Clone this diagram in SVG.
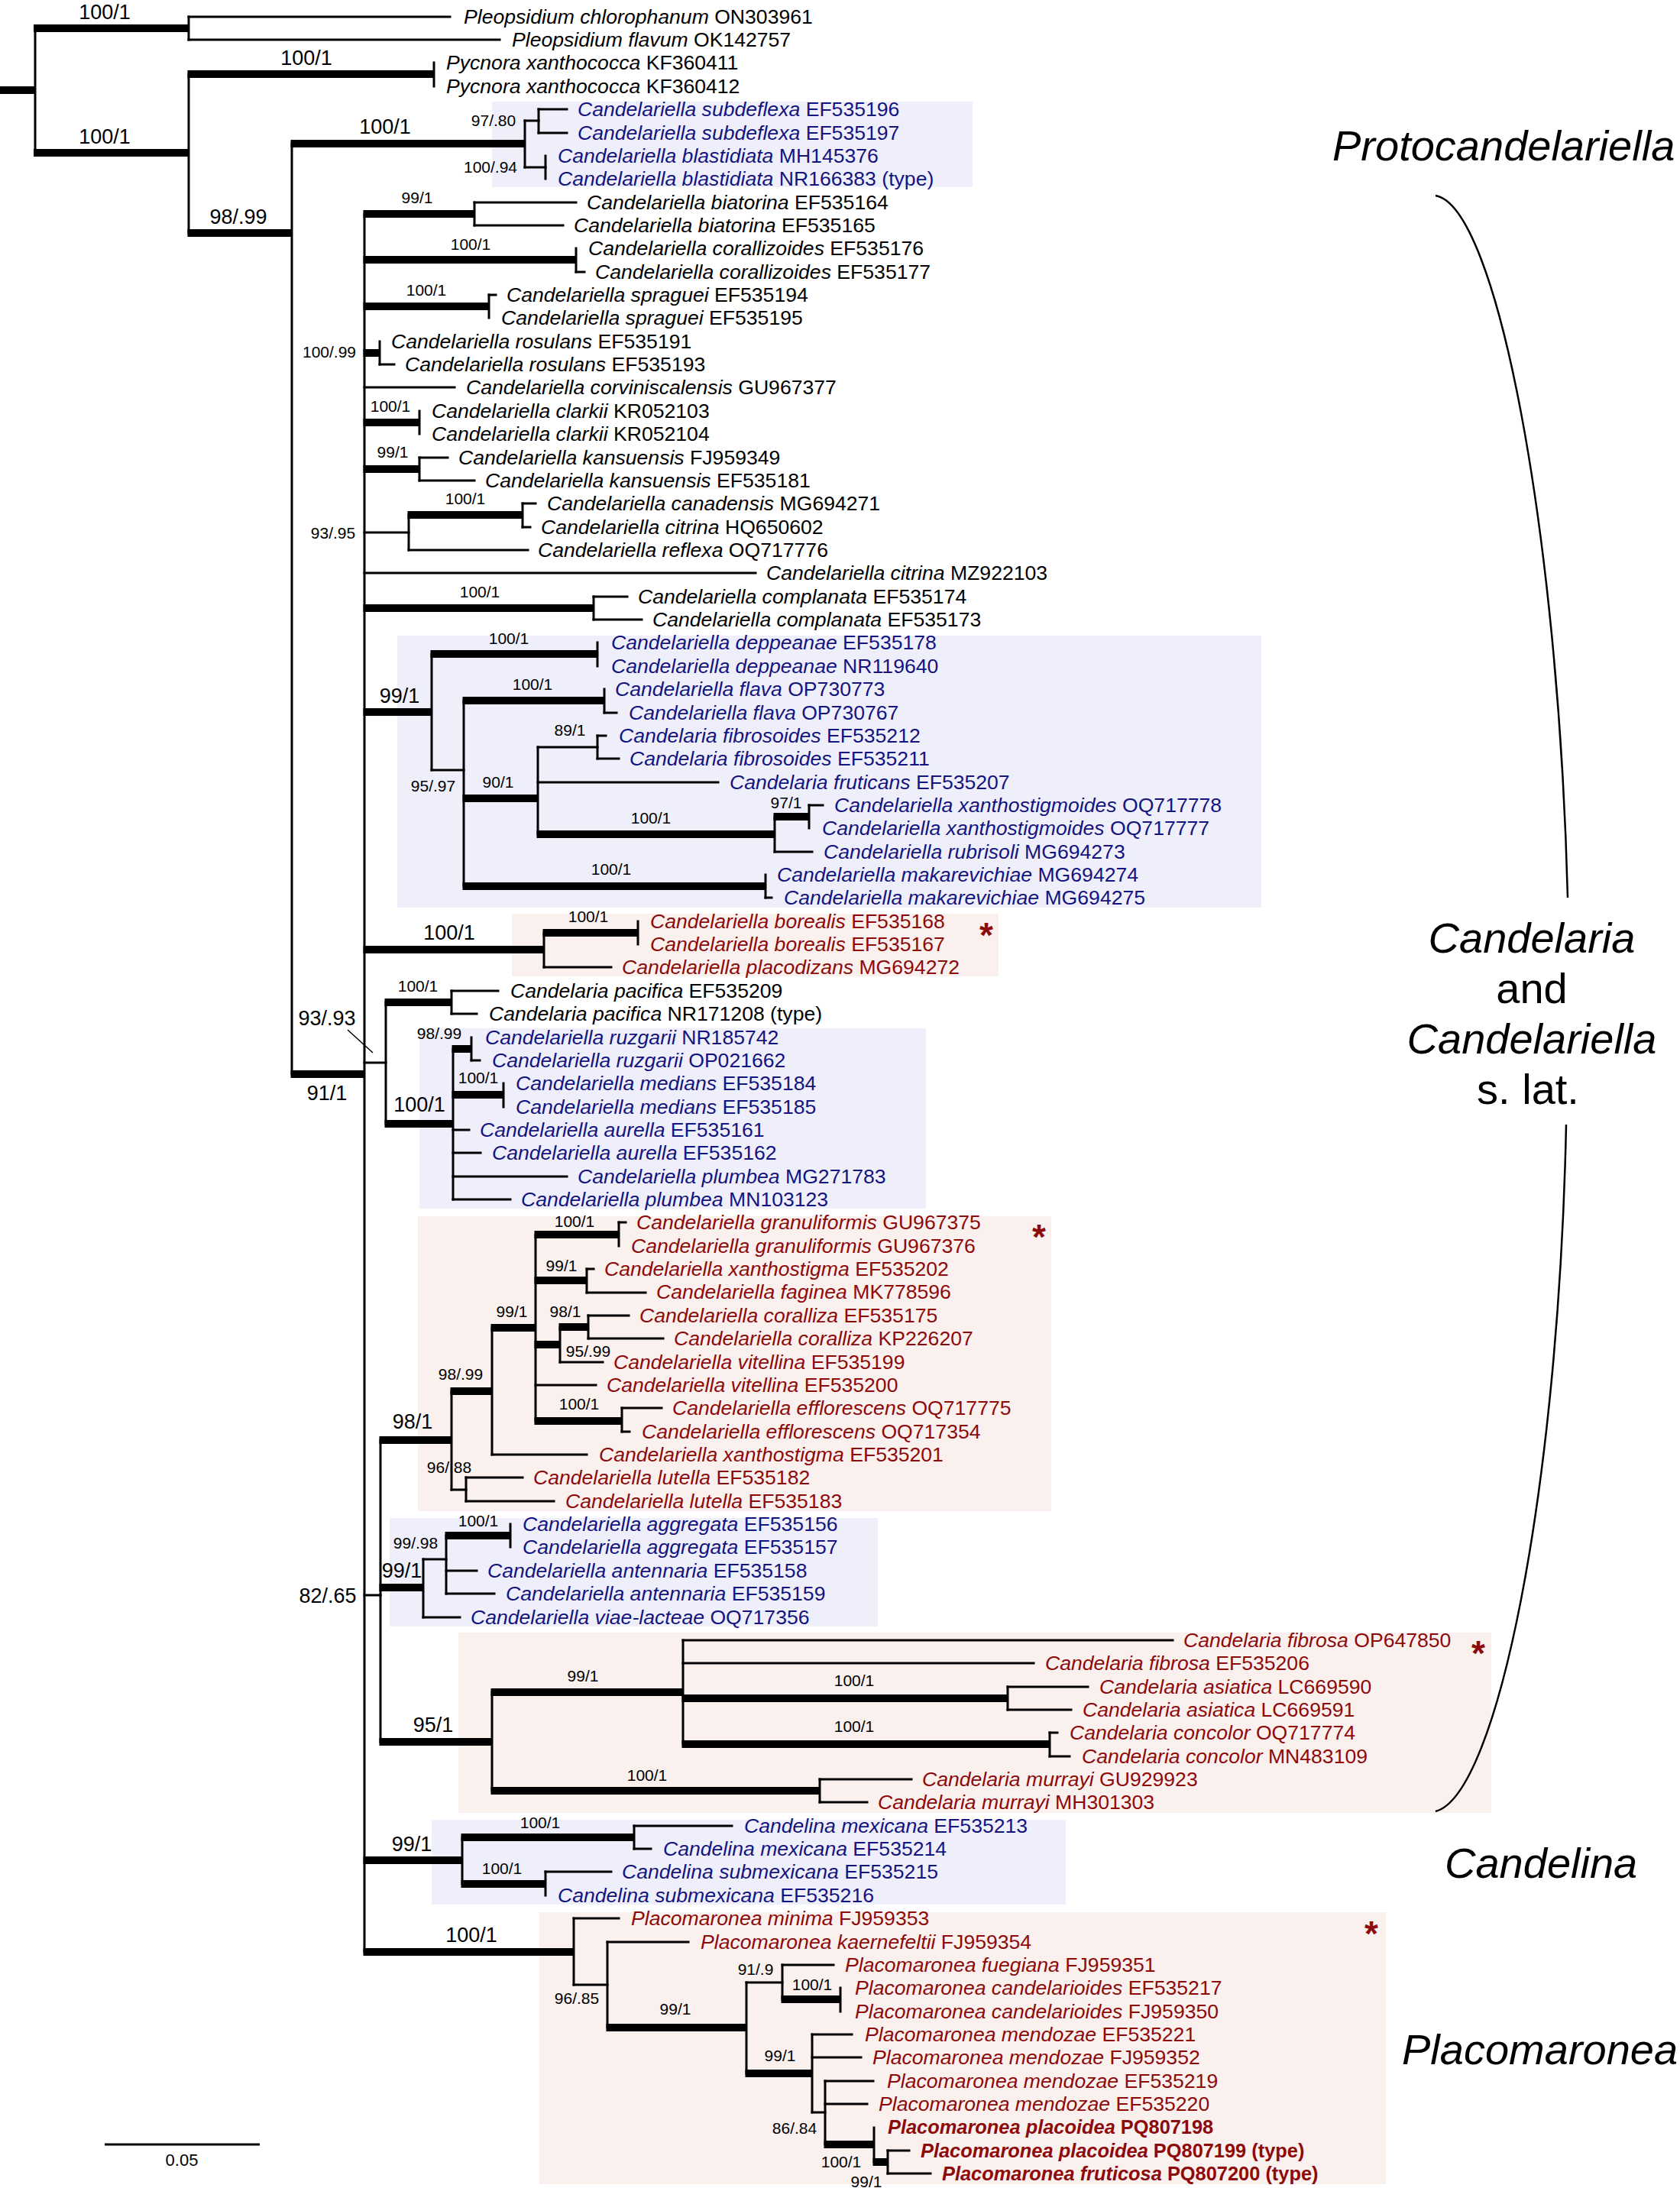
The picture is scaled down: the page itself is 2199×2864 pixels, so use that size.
<svg xmlns="http://www.w3.org/2000/svg" width="2199" height="2864" viewBox="0 0 2199 2864">
<style>
text{font-family:"Liberation Sans",Arial,sans-serif;}
.tip{font-size:26.6px;}
.i{font-style:italic;}
.bd{font-weight:bold;font-size:25.4px;}
.k{fill:#000;}
.bl{fill:#14147f;}
.rd{fill:#8c0a0a;}
.s{font-size:21px;text-anchor:middle;fill:#000;}
.L{font-size:27px;text-anchor:middle;fill:#000;}
.clade{font-size:56px;fill:#000;}
.ast{font-size:46px;font-weight:bold;fill:#8c0a0a;text-anchor:middle;}
.thin{fill:none;stroke:#000;stroke-width:3;stroke-linecap:square;}
.thick{fill:none;stroke:#000;stroke-width:10;stroke-linecap:butt;}
.bbox{fill:#efeffc;}
.rbox{fill:#faf0ee;}
</style>
<rect width="2199" height="2864" fill="#fff"/>
<g id="highlight-boxes">
<rect class="bbox" x="644" y="133" width="629" height="112"/>
<rect class="bbox" x="520" y="832" width="1131" height="356"/>
<rect class="rbox" x="670" y="1196" width="637" height="82"/>
<rect class="bbox" x="549" y="1346" width="663" height="236"/>
<rect class="rbox" x="547" y="1592" width="829" height="386"/>
<rect class="bbox" x="510" y="1987" width="639" height="142"/>
<rect class="rbox" x="600" y="2137" width="1352" height="236"/>
<rect class="bbox" x="565" y="2382" width="830" height="111"/>
<rect class="rbox" x="706" y="2503" width="1108" height="356"/>
</g>
<g id="connectors">
<path class="thin" d="M46 37V200M247 22V52M247 97V305M568 82V113M382 188V1406M687 158V219M705 143V174M714 204V234M477 280V2555M621 265V295M754 325V356M640 386V416M497 447V477M549 538V568M549 599V629M535 674V720M684 659V690M777 781V811M565 856V1008M782 841V872M607 917V1160M791 902V933M704 978V1092M782 963V993M1014 1069V1115M1059 1054V1084M1002 1145V1175M712 1221V1266M835 1206V1236M505 1312V1471M591 1297V1327M593 1373V1570M617 1358V1388M659 1418V1449M498 1885V2280M591 1821V1950M644 1738V1904M701 1616V1860M810 1600V1631M768 1661V1692M733 1737V1783M770 1722V1752M814 1843V1874M610 1934V1965M554 2041V2117M584 2010V2086M668 1995V2025M644 2215V2344M894 2147V2283M1319 2208V2238M1374 2268V2299M1073 2329V2359M605 2405V2466M830 2390V2420M714 2450V2481M751 2511V2598M795 2542V2654M977 2595V2714M1024 2572V2617M1100 2602V2633M1063 2663V2765M1080 2724V2807M1144 2785V2830M1162 2815V2845"/>
<path class="thin" d="M247 22H589M247 52H654M687 158H705M687 219H714M705 143H742M705 174H742M621 265H754M621 295H737M754 356H765M640 386H649M497 477H516M477 507H595M549 599H586M549 629H621M477 697H535M684 659H701M684 690H694M535 720H691M477 750H989M777 781H821M777 811H840M791 933H807M565 1008H607M704 978H782M782 963H793M782 993H810M704 1024H940M1059 1054H1077M1014 1115H1063M1002 1175H1010M712 1266H800M477 1391H505M591 1297H652M591 1327H624M617 1388H628M593 1479H614M593 1509H629M593 1540H742M593 1570H668M477 2088H498M810 1600H819M768 1661H777M768 1692H845M770 1722H823M770 1752H868M733 1783H789M701 1813H780M814 1843H866M814 1874H824M644 1904H768M591 1950H610M610 1934H684M610 1965H725M554 2041H584M584 2056H624M584 2086H647M554 2117H602M894 2147H1535M894 2177H1353M1319 2208H1424M1319 2238H1402M1374 2268H1384M1374 2299H1400M1073 2329H1193M1073 2359H1135M830 2390H958M830 2420H852M714 2450H800M751 2511H810M751 2598H795M795 2542H901M977 2595H1024M1024 2572H1091M1063 2663H1115M1063 2693H1127M1063 2765H1080M1080 2724H1143M1080 2754H1135M1162 2815H1190M1162 2845H1218"/>
<path class="thick" d="M0 118H47M44 37H247M44 200H247M245.5 97H568M245.5 305H382M380.5 188H687M380.5 1406H477M475.5 280H621M475.5 340H754M475.5 401H640M475.5 462H497M475.5 553H549M475.5 614H549M533.5 674H684M475.5 796H777M475.5 932H565M563.5 856H782M605.5 917H791M605.5 1045H704M702.5 1092H1014M1012.5 1069H1059M605.5 1160H1002M475.5 1243H712M710.5 1221H835M503.5 1312H591M503.5 1471H593M591.5 1373H617M591.5 1433H659M496.5 1885H591M589.5 1821H644M642.5 1738H701M699.5 1616H810M699.5 1676H768M699.5 1760H733M731.5 1737H770M699.5 1860H814M496.5 2078H554M582.5 2010H668M496.5 2280H644M642.5 2215H894M892.5 2223H1319M892.5 2283H1374M642.5 2344H1073M475.5 2435H605M603.5 2405H830M603.5 2466H714M475.5 2555H751M793.5 2654H977M1022.5 2617H1100M975.5 2714H1063M1078.5 2807H1144M1142.5 2830H1162"/>
<path d="M455 1348L488 1378" stroke="#000" stroke-width="1.5" fill="none"/>
</g>
<g id="support-values">
<text class="L" x="137" y="25">100/1</text>
<text class="L" x="137" y="188">100/1</text>
<text class="L" x="401" y="85">100/1</text>
<text class="L" x="504" y="175">100/1</text>
<text class="L" x="312" y="293">98/.99</text>
<text class="L" x="523" y="920">99/1</text>
<text class="L" x="588" y="1230">100/1</text>
<text class="L" x="428" y="1342">93/.93</text>
<text class="L" x="428" y="1440">91/1</text>
<text class="L" x="549" y="1455">100/1</text>
<text class="L" x="540" y="1870">98/1</text>
<text class="L" x="429" y="2098">82/.65</text>
<text class="L" x="526" y="2065">99/1</text>
<text class="L" x="567" y="2267">95/1</text>
<text class="L" x="539" y="2423">99/1</text>
<text class="L" x="617" y="2542">100/1</text>
<text class="s" x="646" y="165">97/.80</text>
<text class="s" x="642" y="226">100/.94</text>
<text class="s" x="546" y="266">99/1</text>
<text class="s" x="616" y="327">100/1</text>
<text class="s" x="558" y="387">100/1</text>
<text class="s" x="431" y="468">100/.99</text>
<text class="s" x="511" y="539">100/1</text>
<text class="s" x="514" y="599">99/1</text>
<text class="s" x="436" y="705">93/.95</text>
<text class="s" x="609" y="660">100/1</text>
<text class="s" x="628" y="782">100/1</text>
<text class="s" x="666" y="843">100/1</text>
<text class="s" x="697" y="903">100/1</text>
<text class="s" x="746" y="963">89/1</text>
<text class="s" x="567" y="1036">95/.97</text>
<text class="s" x="652" y="1031">90/1</text>
<text class="s" x="852" y="1078">100/1</text>
<text class="s" x="1029" y="1058">97/1</text>
<text class="s" x="800" y="1145">100/1</text>
<text class="s" x="770" y="1207">100/1</text>
<text class="s" x="547" y="1298">100/1</text>
<text class="s" x="575" y="1360">98/.99</text>
<text class="s" x="626" y="1418">100/1</text>
<text class="s" x="752" y="1606">100/1</text>
<text class="s" x="735" y="1664">99/1</text>
<text class="s" x="670" y="1724">99/1</text>
<text class="s" x="740" y="1724">98/1</text>
<text class="s" x="770" y="1776">95/.99</text>
<text class="s" x="603" y="1806">98/.99</text>
<text class="s" x="758" y="1845">100/1</text>
<text class="s" x="588" y="1928">96/.88</text>
<text class="s" x="626" y="1998">100/1</text>
<text class="s" x="544" y="2027">99/.98</text>
<text class="s" x="763" y="2201">99/1</text>
<text class="s" x="1118" y="2207">100/1</text>
<text class="s" x="1118" y="2267">100/1</text>
<text class="s" x="847" y="2331">100/1</text>
<text class="s" x="707" y="2393">100/1</text>
<text class="s" x="657" y="2453">100/1</text>
<text class="s" x="755" y="2623">96/.85</text>
<text class="s" x="884" y="2637">99/1</text>
<text class="s" x="989" y="2585">91/.9</text>
<text class="s" x="1063" y="2605">100/1</text>
<text class="s" x="1021" y="2698">99/1</text>
<text class="s" x="1040" y="2793">86/.84</text>
<text class="s" x="1101" y="2837">100/1</text>
<text class="s" x="1134" y="2863">99/1</text>
</g>
<g id="tips">
<g id="tip-01"><text class="tip k" x="607" y="31"><tspan class="i">Pleopsidium chlorophanum</tspan> ON303961</text></g>
<g id="tip-02"><text class="tip k" x="670" y="61"><tspan class="i">Pleopsidium flavum</tspan> OK142757</text></g>
<g id="tip-03"><text class="tip k" x="584" y="91"><tspan class="i">Pycnora xanthococca</tspan> KF360411</text></g>
<g id="tip-04"><text class="tip k" x="584" y="122"><tspan class="i">Pycnora xanthococca</tspan> KF360412</text></g>
<g id="tip-05"><text class="tip bl" x="756" y="152"><tspan class="i">Candelariella subdeflexa</tspan> EF535196</text></g>
<g id="tip-06"><text class="tip bl" x="756" y="183"><tspan class="i">Candelariella subdeflexa</tspan> EF535197</text></g>
<g id="tip-07"><text class="tip bl" x="730" y="213"><tspan class="i">Candelariella blastidiata</tspan> MH145376</text></g>
<g id="tip-08"><text class="tip bl" x="730" y="243"><tspan class="i">Candelariella blastidiata</tspan> NR166383 (type)</text></g>
<g id="tip-09"><text class="tip k" x="768" y="274"><tspan class="i">Candelariella biatorina</tspan> EF535164</text></g>
<g id="tip-10"><text class="tip k" x="751" y="304"><tspan class="i">Candelariella biatorina</tspan> EF535165</text></g>
<g id="tip-11"><text class="tip k" x="770" y="334"><tspan class="i">Candelariella corallizoides</tspan> EF535176</text></g>
<g id="tip-12"><text class="tip k" x="779" y="365"><tspan class="i">Candelariella corallizoides</tspan> EF535177</text></g>
<g id="tip-13"><text class="tip k" x="663" y="395"><tspan class="i">Candelariella spraguei</tspan> EF535194</text></g>
<g id="tip-14"><text class="tip k" x="656" y="425"><tspan class="i">Candelariella spraguei</tspan> EF535195</text></g>
<g id="tip-15"><text class="tip k" x="512" y="456"><tspan class="i">Candelariella rosulans</tspan> EF535191</text></g>
<g id="tip-16"><text class="tip k" x="530" y="486"><tspan class="i">Candelariella rosulans</tspan> EF535193</text></g>
<g id="tip-17"><text class="tip k" x="610" y="516"><tspan class="i">Candelariella corviniscalensis</tspan> GU967377</text></g>
<g id="tip-18"><text class="tip k" x="565" y="547"><tspan class="i">Candelariella clarkii</tspan> KR052103</text></g>
<g id="tip-19"><text class="tip k" x="565" y="577"><tspan class="i">Candelariella clarkii</tspan> KR052104</text></g>
<g id="tip-20"><text class="tip k" x="600" y="608"><tspan class="i">Candelariella kansuensis</tspan> FJ959349</text></g>
<g id="tip-21"><text class="tip k" x="635" y="638"><tspan class="i">Candelariella kansuensis</tspan> EF535181</text></g>
<g id="tip-22"><text class="tip k" x="716" y="668"><tspan class="i">Candelariella canadensis</tspan> MG694271</text></g>
<g id="tip-23"><text class="tip k" x="708" y="699"><tspan class="i">Candelariella citrina</tspan> HQ650602</text></g>
<g id="tip-24"><text class="tip k" x="704" y="729"><tspan class="i">Candelariella reflexa</tspan> OQ717776</text></g>
<g id="tip-25"><text class="tip k" x="1003" y="759"><tspan class="i">Candelariella citrina</tspan> MZ922103</text></g>
<g id="tip-26"><text class="tip k" x="835" y="790"><tspan class="i">Candelariella complanata</tspan> EF535174</text></g>
<g id="tip-27"><text class="tip k" x="854" y="820"><tspan class="i">Candelariella complanata</tspan> EF535173</text></g>
<g id="tip-28"><text class="tip bl" x="800" y="850"><tspan class="i">Candelariella deppeanae</tspan> EF535178</text></g>
<g id="tip-29"><text class="tip bl" x="800" y="881"><tspan class="i">Candelariella deppeanae</tspan> NR119640</text></g>
<g id="tip-30"><text class="tip bl" x="805" y="911"><tspan class="i">Candelariella flava</tspan> OP730773</text></g>
<g id="tip-31"><text class="tip bl" x="823" y="942"><tspan class="i">Candelariella flava</tspan> OP730767</text></g>
<g id="tip-32"><text class="tip bl" x="810" y="972"><tspan class="i">Candelaria fibrosoides</tspan> EF535212</text></g>
<g id="tip-33"><text class="tip bl" x="824" y="1002"><tspan class="i">Candelaria fibrosoides</tspan> EF535211</text></g>
<g id="tip-34"><text class="tip bl" x="955" y="1033"><tspan class="i">Candelaria fruticans</tspan> EF535207</text></g>
<g id="tip-35"><text class="tip bl" x="1092" y="1063"><tspan class="i">Candelariella xanthostigmoides</tspan> OQ717778</text></g>
<g id="tip-36"><text class="tip bl" x="1076" y="1093"><tspan class="i">Candelariella xanthostigmoides</tspan> OQ717777</text></g>
<g id="tip-37"><text class="tip bl" x="1078" y="1124"><tspan class="i">Candelariella rubrisoli</tspan> MG694273</text></g>
<g id="tip-38"><text class="tip bl" x="1017" y="1154"><tspan class="i">Candelariella makarevichiae</tspan> MG694274</text></g>
<g id="tip-39"><text class="tip bl" x="1026" y="1184"><tspan class="i">Candelariella makarevichiae</tspan> MG694275</text></g>
<g id="tip-40"><text class="tip rd" x="851" y="1215"><tspan class="i">Candelariella borealis</tspan> EF535168</text></g>
<g id="tip-41"><text class="tip rd" x="851" y="1245"><tspan class="i">Candelariella borealis</tspan> EF535167</text></g>
<g id="tip-42"><text class="tip rd" x="814" y="1275"><tspan class="i">Candelariella placodizans</tspan> MG694272</text></g>
<g id="tip-43"><text class="tip k" x="668" y="1306"><tspan class="i">Candelaria pacifica</tspan> EF535209</text></g>
<g id="tip-44"><text class="tip k" x="640" y="1336"><tspan class="i">Candelaria pacifica</tspan> NR171208 (type)</text></g>
<g id="tip-45"><text class="tip bl" x="635" y="1367"><tspan class="i">Candelariella ruzgarii</tspan> NR185742</text></g>
<g id="tip-46"><text class="tip bl" x="644" y="1397"><tspan class="i">Candelariella ruzgarii</tspan> OP021662</text></g>
<g id="tip-47"><text class="tip bl" x="675" y="1427"><tspan class="i">Candelariella medians</tspan> EF535184</text></g>
<g id="tip-48"><text class="tip bl" x="675" y="1458"><tspan class="i">Candelariella medians</tspan> EF535185</text></g>
<g id="tip-49"><text class="tip bl" x="628" y="1488"><tspan class="i">Candelariella aurella</tspan> EF535161</text></g>
<g id="tip-50"><text class="tip bl" x="644" y="1518"><tspan class="i">Candelariella aurella</tspan> EF535162</text></g>
<g id="tip-51"><text class="tip bl" x="756" y="1549"><tspan class="i">Candelariella plumbea</tspan> MG271783</text></g>
<g id="tip-52"><text class="tip bl" x="682" y="1579"><tspan class="i">Candelariella plumbea</tspan> MN103123</text></g>
<g id="tip-53"><text class="tip rd" x="833" y="1609"><tspan class="i">Candelariella granuliformis</tspan> GU967375</text></g>
<g id="tip-54"><text class="tip rd" x="826" y="1640"><tspan class="i">Candelariella granuliformis</tspan> GU967376</text></g>
<g id="tip-55"><text class="tip rd" x="791" y="1670"><tspan class="i">Candelariella xanthostigma</tspan> EF535202</text></g>
<g id="tip-56"><text class="tip rd" x="859" y="1700"><tspan class="i">Candelariella faginea</tspan> MK778596</text></g>
<g id="tip-57"><text class="tip rd" x="837" y="1731"><tspan class="i">Candelariella coralliza</tspan> EF535175</text></g>
<g id="tip-58"><text class="tip rd" x="882" y="1761"><tspan class="i">Candelariella coralliza</tspan> KP226207</text></g>
<g id="tip-59"><text class="tip rd" x="803" y="1792"><tspan class="i">Candelariella vitellina</tspan> EF535199</text></g>
<g id="tip-60"><text class="tip rd" x="794" y="1822"><tspan class="i">Candelariella vitellina</tspan> EF535200</text></g>
<g id="tip-61"><text class="tip rd" x="880" y="1852"><tspan class="i">Candelariella efflorescens</tspan> OQ717775</text></g>
<g id="tip-62"><text class="tip rd" x="840" y="1883"><tspan class="i">Candelariella efflorescens</tspan> OQ717354</text></g>
<g id="tip-63"><text class="tip rd" x="784" y="1913"><tspan class="i">Candelariella xanthostigma</tspan> EF535201</text></g>
<g id="tip-64"><text class="tip rd" x="698" y="1943"><tspan class="i">Candelariella lutella</tspan> EF535182</text></g>
<g id="tip-65"><text class="tip rd" x="740" y="1974"><tspan class="i">Candelariella lutella</tspan> EF535183</text></g>
<g id="tip-66"><text class="tip bl" x="684" y="2004"><tspan class="i">Candelariella aggregata</tspan> EF535156</text></g>
<g id="tip-67"><text class="tip bl" x="684" y="2034"><tspan class="i">Candelariella aggregata</tspan> EF535157</text></g>
<g id="tip-68"><text class="tip bl" x="638" y="2065"><tspan class="i">Candelariella antennaria</tspan> EF535158</text></g>
<g id="tip-69"><text class="tip bl" x="662" y="2095"><tspan class="i">Candelariella antennaria</tspan> EF535159</text></g>
<g id="tip-70"><text class="tip bl" x="616" y="2126"><tspan class="i">Candelariella viae-lacteae</tspan> OQ717356</text></g>
<g id="tip-71"><text class="tip rd" x="1549" y="2156"><tspan class="i">Candelaria fibrosa</tspan> OP647850</text></g>
<g id="tip-72"><text class="tip rd" x="1368" y="2186"><tspan class="i">Candelaria fibrosa</tspan> EF535206</text></g>
<g id="tip-73"><text class="tip rd" x="1439" y="2217"><tspan class="i">Candelaria asiatica</tspan> LC669590</text></g>
<g id="tip-74"><text class="tip rd" x="1417" y="2247"><tspan class="i">Candelaria asiatica</tspan> LC669591</text></g>
<g id="tip-75"><text class="tip rd" x="1400" y="2277"><tspan class="i">Candelaria concolor</tspan> OQ717774</text></g>
<g id="tip-76"><text class="tip rd" x="1416" y="2308"><tspan class="i">Candelaria concolor</tspan> MN483109</text></g>
<g id="tip-77"><text class="tip rd" x="1207" y="2338"><tspan class="i">Candelaria murrayi</tspan> GU929923</text></g>
<g id="tip-78"><text class="tip rd" x="1149" y="2368"><tspan class="i">Candelaria murrayi</tspan> MH301303</text></g>
<g id="tip-79"><text class="tip bl" x="974" y="2399"><tspan class="i">Candelina mexicana</tspan> EF535213</text></g>
<g id="tip-80"><text class="tip bl" x="868" y="2429"><tspan class="i">Candelina mexicana</tspan> EF535214</text></g>
<g id="tip-81"><text class="tip bl" x="814" y="2459"><tspan class="i">Candelina submexicana</tspan> EF535215</text></g>
<g id="tip-82"><text class="tip bl" x="730" y="2490"><tspan class="i">Candelina submexicana</tspan> EF535216</text></g>
<g id="tip-83"><text class="tip rd" x="826" y="2520"><tspan class="i">Placomaronea minima</tspan> FJ959353</text></g>
<g id="tip-84"><text class="tip rd" x="917" y="2551"><tspan class="i">Placomaronea kaernefeltii</tspan> FJ959354</text></g>
<g id="tip-85"><text class="tip rd" x="1106" y="2581"><tspan class="i">Placomaronea fuegiana</tspan> FJ959351</text></g>
<g id="tip-86"><text class="tip rd" x="1119" y="2611"><tspan class="i">Placomaronea candelarioides</tspan> EF535217</text></g>
<g id="tip-87"><text class="tip rd" x="1119" y="2642"><tspan class="i">Placomaronea candelarioides</tspan> FJ959350</text></g>
<g id="tip-88"><text class="tip rd" x="1132" y="2672"><tspan class="i">Placomaronea mendozae</tspan> EF535221</text></g>
<g id="tip-89"><text class="tip rd" x="1142" y="2702"><tspan class="i">Placomaronea mendozae</tspan> FJ959352</text></g>
<g id="tip-90"><text class="tip rd" x="1161" y="2733"><tspan class="i">Placomaronea mendozae</tspan> EF535219</text></g>
<g id="tip-91"><text class="tip rd" x="1150" y="2763"><tspan class="i">Placomaronea mendozae</tspan> EF535220</text></g>
<g id="tip-92"><text class="tip rd bd" x="1162" y="2793"><tspan class="i">Placomaronea placoidea</tspan> PQ807198</text></g>
<g id="tip-93"><text class="tip rd bd" x="1205" y="2824"><tspan class="i">Placomaronea placoidea</tspan> PQ807199 (type)</text></g>
<g id="tip-94"><text class="tip rd bd" x="1233" y="2854"><tspan class="i">Placomaronea fruticosa</tspan> PQ807200 (type)</text></g>
</g>
<g id="asterisks">
<text class="ast" x="1291" y="1240">*</text>
<text class="ast" x="1360" y="1635">*</text>
<text class="ast" x="1935" y="2180">*</text>
<text class="ast" x="1795" y="2547">*</text>
</g>
<g id="clade-protocandelariella"><text class="clade i" x="1744" y="210">Protocandelariella</text></g>
<g id="clade-candelaria">
<path d="M1879 256C1960 270 2040 700 2052 1175M2050 1472C2040 1950 1960 2350 1879 2371" fill="none" stroke="#000" stroke-width="2.5"/>
<text class="clade" text-anchor="middle" x="2005" y="1247"><tspan class="i">Candelaria</tspan></text>
<text class="clade" text-anchor="middle" x="2005" y="1313">and</text>
<text class="clade" text-anchor="middle" x="2005" y="1379"><tspan class="i">Candelariella</tspan></text>
<text class="clade" text-anchor="middle" x="2000" y="1445">s. lat.</text>
</g>
<g id="clade-candelina"><text class="clade i" x="1891" y="2458">Candelina</text></g>
<g id="clade-placomaronea"><text class="clade i" x="1835" y="2702">Placomaronea</text></g>
<g id="scale-bar">
<path d="M137 2807H340" stroke="#000" stroke-width="3"/>
<text x="238" y="2835" font-size="22" text-anchor="middle">0.05</text>
</g>
</svg>
